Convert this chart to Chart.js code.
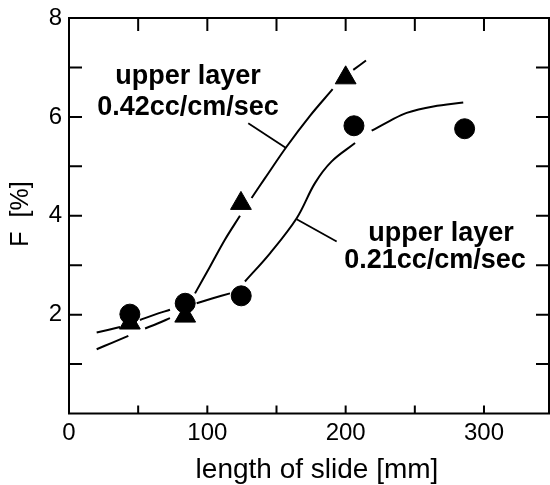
<!DOCTYPE html>
<html>
<head>
<meta charset="utf-8">
<script src="https://cdn.jsdelivr.net/npm/chart.js@4/dist/chart.umd.min.js"></script>
<style>
  html, body { margin: 0; padding: 0; background: #fff; }
  canvas { display: block; }
</style>
</head>
<body>
<canvas id="slideChart" width="550" height="485"></canvas>
<script>
// measured points (length of slide [mm], F [%])
const circleX = [44, 84, 124.5, 206, 286];
const circleY = [2.01, 2.23, 2.38, 5.82, 5.76];
const triangleX = [44, 84, 124.3, 200];
const triangleY = [1.83, 1.97, 4.25, 6.79];

// hand drawn fit curves (null = break next to a marker)
const curve042X = [20, 31, 42.9, 48, 55, 64, 73, 82, 91.1, 101.9, 112.8, 123.6, 128, 132, 141.7, 157.4, 174.2, 190.6, 198, 205.5, 214.7];
const curve042Y = [1.30, 1.43, 1.57, null, 1.72, 1.82, 1.93, null, 2.43, 2.97, 3.52, 4.00, null, 4.36, 4.76, 5.40, 6.02, 6.56, null, 6.95, 7.14];
const curve021X = [20, 28, 36.9, 44, 51.3, 62, 73, 84, 92.3, 104, 116.4, 122, 127.2, 145.3, 164.6, 177.8, 189.9, 206.8, 212, 218.8, 232, 244.1, 263.4, 285];
const curve021Y = [1.64, 1.69, 1.75, null, 1.89, 2.00, 2.10, null, 2.23, 2.33, 2.43, null, 2.67, 3.24, 3.95, 4.66, 5.10, 5.47, null, 5.72, 5.92, 6.08, 6.21, 6.29];

// leader lines from labels to curves
const leader042X = [129.6, 156.9];
const leader042Y = [5.87, 5.37];
const leader021X = [164.6, 193.5];
const leader021Y = [3.93, 3.48];

// axes
const xTickMarks = [0, 50, 100, 150, 200, 250, 300];
const xTickLabels = [0, 100, 200, 300];
const yTickMarks = [1, 2, 3, 4, 5, 6, 7];
const yTickLabels = [2, 4, 6, 8];

const labelLines = [
  { text: 'upper layer', x: 86, y: 6.67 },
  { text: '0.42cc/cm/sec', x: 86, y: 6.04 },
  { text: 'upper layer', x: 268.9, y: 3.48 },
  { text: '0.21cc/cm/sec', x: 264.6, y: 2.94 }
];

const FONT = '"Liberation Sans", Arial, Helvetica, sans-serif';

function toPoints(xs, ys) {
  return xs.map((x, i) => ({ x: x, y: ys[i] }));
}

const lineStyle = {
  showLine: true,
  borderColor: '#000',
  borderWidth: 2,
  pointRadius: 0,
  pointHoverRadius: 0,
  tension: 0.35,
  spanGaps: false,
  fill: false
};

// frame, inward tick marks, labels and axis titles
const framePlugin = {
  id: 'frame',
  beforeDraw(chart) {
    const ctx = chart.ctx;
    ctx.save();
    ctx.fillStyle = '#fff';
    ctx.fillRect(0, 0, chart.width, chart.height);
    ctx.restore();
  },
  afterDraw(chart) {
    const ctx = chart.ctx;
    const { left, right, top, bottom } = chart.chartArea;
    const xs = chart.scales.x, ys = chart.scales.y;
    ctx.save();
    ctx.strokeStyle = '#000';
    ctx.lineWidth = 2;
    ctx.strokeRect(left, top, right - left, bottom - top);
    ctx.beginPath();
    xTickMarks.forEach(v => {
      const px = xs.getPixelForValue(v);
      ctx.moveTo(px, bottom); ctx.lineTo(px, bottom - 8);
      ctx.moveTo(px, top); ctx.lineTo(px, top + 13);
    });
    yTickMarks.forEach(v => {
      const py = ys.getPixelForValue(v);
      ctx.moveTo(left, py); ctx.lineTo(left + 13, py);
      ctx.moveTo(right, py); ctx.lineTo(right - 13, py);
    });
    ctx.stroke();

    ctx.fillStyle = '#000';
    ctx.font = 'bold 27px ' + FONT;
    ctx.textAlign = 'center';
    ctx.textBaseline = 'alphabetic';
    labelLines.forEach(l => {
      ctx.fillText(l.text, xs.getPixelForValue(l.x), ys.getPixelForValue(l.y));
    });

    ctx.font = '28px ' + FONT;
    ctx.fillText('length of slide [mm]', 317, 478);

    ctx.translate(28, 214);
    ctx.rotate(-Math.PI / 2);
    ctx.font = '25px ' + FONT;
    ctx.fillText('F  [%]', 0, 0);
    ctx.restore();
  }
};

const ctx = document.getElementById('slideChart').getContext('2d');

new Chart(ctx, {
  type: 'scatter',
  data: {
    datasets: [
      Object.assign({ data: toPoints(curve042X, curve042Y) }, lineStyle),
      Object.assign({ data: toPoints(curve021X, curve021Y) }, lineStyle),
      Object.assign({ data: toPoints(leader042X, leader042Y) }, lineStyle, { tension: 0, borderWidth: 1.8 }),
      Object.assign({ data: toPoints(leader021X, leader021Y) }, lineStyle, { tension: 0, borderWidth: 1.8 }),
      {
        label: 'upper layer 0.42cc/cm/sec',
        data: toPoints(triangleX, triangleY),
        pointStyle: 'triangle',
        pointRadius: 12,
        pointBackgroundColor: '#000',
        pointBorderColor: '#000',
        pointBorderWidth: 1,
        showLine: false
      },
      {
        label: 'upper layer 0.21cc/cm/sec',
        data: toPoints(circleX, circleY),
        pointStyle: 'circle',
        pointRadius: 10,
        pointBackgroundColor: '#000',
        pointBorderColor: '#000',
        pointBorderWidth: 1,
        showLine: false
      }
    ]
  },
  options: {
    responsive: false,
    animation: false,
    devicePixelRatio: 1,
    layout: { autoPadding: false, padding: { top: 18, right: 1, bottom: 0, left: 0 } },
    scales: {
      x: {
        type: 'linear',
        min: 0,
        max: 347,
        afterBuildTicks: s => { s.ticks = xTickLabels.map(v => ({ value: v })); },
        afterFit: s => { s.height = 71.5; s.paddingLeft = 0; s.paddingRight = 0; },
        ticks: { color: '#000', font: { family: FONT, size: 24 }, padding: 5, maxRotation: 0, autoSkip: false },
        grid: { display: false, drawTicks: false },
        border: { display: false }
      },
      y: {
        type: 'linear',
        min: 0,
        max: 8,
        afterBuildTicks: s => { s.ticks = yTickLabels.map(v => ({ value: v })); },
        afterFit: s => { s.width = 69; s.paddingTop = 0; s.paddingBottom = 0; },
        ticks: { color: '#000', font: { family: FONT, size: 24 }, padding: 7, autoSkip: false },
        grid: { display: false, drawTicks: false },
        border: { display: false }
      }
    },
    plugins: {
      legend: { display: false },
      tooltip: { enabled: false }
    }
  },
  plugins: [framePlugin]
});
</script>
</body>
</html>
